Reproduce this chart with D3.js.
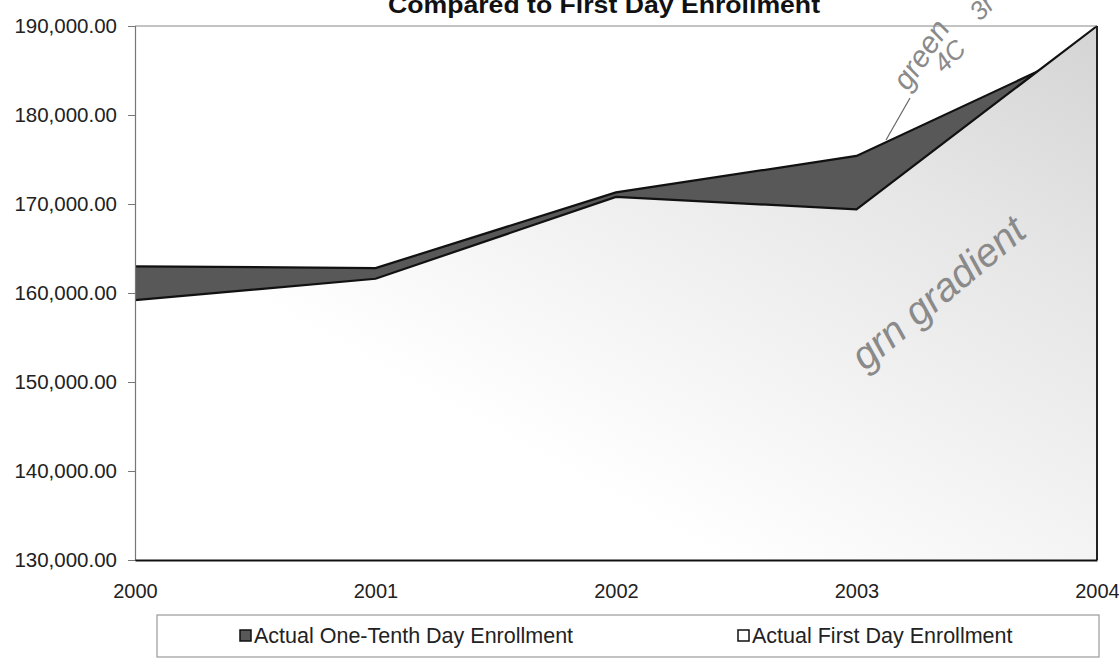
<!DOCTYPE html>
<html>
<head>
<meta charset="utf-8">
<script src="https://cdn.jsdelivr.net/npm/d3@7"></script>
<style>
  html, body { margin: 0; padding: 0; background: #fff; }
  svg { display: block; }
  text { font-family: "Liberation Sans", Arial, sans-serif; }
</style>
</head>
<body>
<svg id="chart" width="1119" height="662"></svg>
<script>
// ---- data ----
const years = [2000, 2001, 2002, 2003, 2004];
const oneTenthDay = [163000, 162800, 171300, 175400, 188000];
const firstDay = [159200, 161600, 170800, 169400, 190000];
const yTicks = [130000, 140000, 150000, 160000, 170000, 180000, 190000];
const seriesNames = ["Actual One-Tenth Day Enrollment", "Actual First Day Enrollment"];
const titleText = "Compared to First Day Enrollment";

(function () {
// ---- layout ----
const pL = 135, pR = 1097, pT = 26, pB = 560;

const svg = d3.select("#chart");
const x = d3.scaleLinear().domain([years[0], years[years.length - 1]]).range([pL, pR]);
const y = d3.scaleLinear().domain([yTicks[0], yTicks[yTicks.length - 1]]).range([pB, pT]);

const defs = svg.append("defs");
const grad = defs.append("linearGradient").attr("id", "grad")
  .attr("x1", "0").attr("y1", "1").attr("x2", "1").attr("y2", "0");
grad.append("stop").attr("offset", "0.3").attr("stop-color", "#ffffff");
grad.append("stop").attr("offset", "0.75").attr("stop-color", "#e6e6e6");
grad.append("stop").attr("offset", "1").attr("stop-color", "#d4d4d4");

// title (top slightly clipped, as in the reference)
svg.append("text").attr("x", 388).attr("y", 13)
  .attr("font-weight", "bold").attr("font-size", 23).attr("fill", "#111")
  .attr("textLength", 432).attr("lengthAdjust", "spacingAndGlyphs").text(titleText);

const d1 = years.map((yr, i) => ({ yr, v: oneTenthDay[i] }));
const d2 = years.map((yr, i) => ({ yr, v: firstDay[i] }));

const area = d3.area().x(d => x(d.yr)).y0(y(yTicks[0])).y1(d => y(d.v));
const line = d3.line().x(d => x(d.yr)).y(d => y(d.v));

// one-tenth area behind
svg.append("path").datum(d1).attr("d", area).attr("fill", "#585858");
svg.append("path").datum(d1).attr("d", line).attr("fill", "none").attr("stroke", "#111").attr("stroke-width", 2.2);
// first day area in front
svg.append("path").datum(d2).attr("d", area).attr("fill", "url(#grad)");
svg.append("path").datum(d2).attr("d", line).attr("fill", "none").attr("stroke", "#111").attr("stroke-width", 2.2);

// plot border: top (gray thin), right (dark)
svg.append("line").attr("x1", pL).attr("x2", pR).attr("y1", pT).attr("y2", pT)
  .attr("stroke", "#888").attr("stroke-width", 1);
svg.append("line").attr("x1", pR).attr("x2", pR).attr("y1", pT).attr("y2", pB)
  .attr("stroke", "#222").attr("stroke-width", 2);

// y axis
const yAxis = svg.append("g").attr("transform", `translate(${pL},0)`)
  .call(d3.axisLeft(y).tickValues(yTicks).tickFormat(d3.format(",.2f")).tickSize(7).tickPadding(11));
yAxis.select(".domain").attr("stroke", "#777").attr("stroke-width", 1.2);
yAxis.selectAll(".tick line").attr("stroke", "#777");
yAxis.selectAll(".tick text").attr("font-size", 20.5).attr("fill", "#222")
  .attr("font-family", "Liberation Sans, Arial, sans-serif");

// x axis
const xAxis = svg.append("g").attr("transform", `translate(0,${pB})`)
  .call(d3.axisBottom(x).tickValues(years).tickFormat(d3.format("d")).tickSize(0).tickPadding(24));
xAxis.select(".domain").attr("stroke", "#111").attr("stroke-width", 2.2);
xAxis.selectAll(".tick text").attr("font-size", 20).attr("fill", "#222")
  .attr("font-family", "Liberation Sans, Arial, sans-serif");

// legend
const lg = svg.append("g");
lg.append("rect").attr("x", 157).attr("y", 615).attr("width", 942).attr("height", 42)
  .attr("fill", "#fff").attr("stroke", "#999").attr("stroke-width", 1.2);
const legendItems = [
  { name: seriesNames[0], fill: "#585858", sx: 240 },
  { name: seriesNames[1], fill: "#ffffff", sx: 738 }
];
legendItems.forEach(it => {
  lg.append("rect").attr("x", it.sx).attr("y", 630).attr("width", 11).attr("height", 11)
    .attr("fill", it.fill).attr("stroke", "#111").attr("stroke-width", 1.5);
  lg.append("text").attr("x", it.sx + 14).attr("y", 643).attr("font-size", 21.5).attr("fill", "#222").text(it.name);
});

// handwritten annotations (scan marks)
const hw = svg.append("g").attr("fill", "#8a8a8a").attr("font-family", "DejaVu Serif, serif")
  .attr("font-style", "italic");
hw.append("line").attr("x1", 886).attr("y1", 140).attr("x2", 910).attr("y2", 98)
  .attr("stroke", "#666").attr("stroke-width", 1.2);
hw.append("text").attr("transform", "translate(908,92) rotate(-56)").attr("font-size", 30).text("green");
hw.append("text").attr("transform", "translate(944,74) rotate(-45)").attr("font-size", 26).text("4C");
hw.append("text").attr("transform", "translate(980,22) rotate(-45)").attr("font-size", 26).text("3r");
hw.append("text").attr("transform", "translate(865,372) rotate(-40)").attr("font-size", 40).text("grn gradient");
})();
</script>
</body>
</html>
